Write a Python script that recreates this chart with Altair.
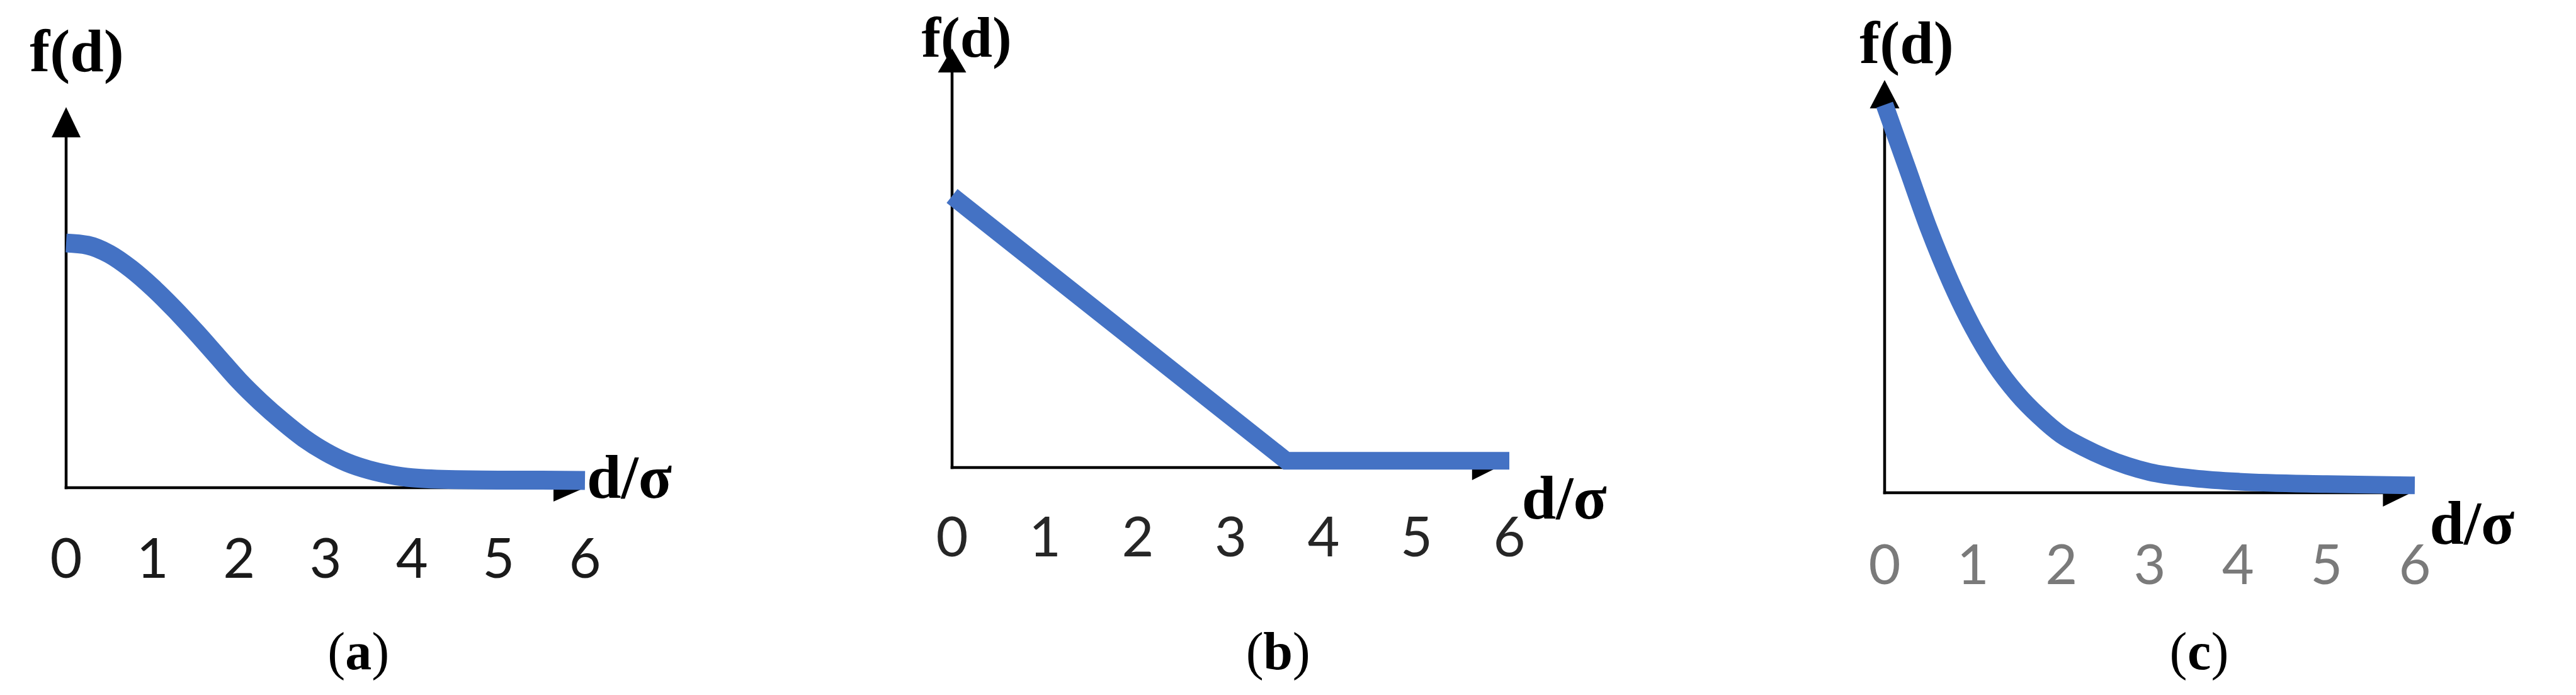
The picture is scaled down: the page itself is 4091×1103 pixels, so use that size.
import altair as alt
import pandas as pd

# ---------------- data ----------------
# (a) Gaussian-like kernel
a_x = [0, 0.25, 0.5, 0.75, 1, 1.25, 1.5, 1.75, 2, 2.25, 2.5, 2.75, 3, 3.25, 3.5, 3.75, 4, 4.5, 5, 5.5, 6]
a_f = [0.643, 0.637, 0.614, 0.575, 0.526, 0.47, 0.409, 0.345, 0.281, 0.225, 0.175, 0.13, 0.094,
       0.066, 0.047, 0.034, 0.026, 0.021, 0.02, 0.02, 0.019]
# (b) linear kernel
b_x = [0, 3.6, 6.0]
b_f = [0.648, 0.016, 0.016]
# (c) exponential-like kernel
c_x = [0, 0.25, 0.5, 0.75, 1, 1.25, 1.5, 1.75, 2, 2.25, 2.5, 2.75, 3, 3.5, 4, 5, 6]
c_f = [0.94, 0.79, 0.64, 0.51, 0.40, 0.31, 0.24, 0.185, 0.14, 0.11, 0.085, 0.065, 0.05, 0.035,
       0.027, 0.021, 0.018]

tick_values = [0, 1, 2, 3, 4, 5, 6]
tick_labels = ["0", "1", "2", "3", "4", "5", "6"]
captions = ["a", "b", "c"]
y_label = "f(d)"
x_label = "d/\u03c3"
axis_x_end = [6.0, 5.87, 5.96]
caption_x = [3.38, 3.51, 3.56]

# ---------------- styling / layout ----------------
BLUE = "#4472C4"
SERIF = "Liberation Serif"
SANS = "Lato"

panels = [
    dict(xs=a_x, fs=a_f, xr=[97, 921], yr=[766, 162], cap=captions[0], capx=caption_x[0],
         xend=axis_x_end[0], tick_color="#1a1a1a", tick_dy=143,
         yl_dx=17, yl_dy=-57, yl_fs=96, xl_dx=3, xl_dy=16, cap_dy=288, cap_half=21,
         up=(46, 48), right=(50, 22), lw=30, interp="monotone"),
    dict(xs=b_x, fs=b_f, xr=[1504, 2389], yr=[734, 69], cap=captions[1], capx=caption_x[1],
         xend=axis_x_end[1], tick_color="#262626", tick_dy=141,
         yl_dx=23, yl_dy=13, yl_fs=92, xl_dx=39, xl_dy=81, cap_dy=320, cap_half=23,
         up=(45, 38), right=(40, 20), lw=28, interp="linear"),
    dict(xs=c_x, fs=c_f, xr=[2985, 3827], yr=[774, 119], cap=captions[2], capx=caption_x[2],
         xend=axis_x_end[2], tick_color="#7a7a7a", tick_dy=145,
         yl_dx=35, yl_dy=-27, yl_fs=96, xl_dx=29, xl_dy=81, cap_dy=280, cap_half=19,
         up=(47, 45), right=(45, 22), lw=28, interp="monotone"),
]


def enc(xs, ys, xf="x:Q", yf="y:Q"):
    return dict(x=alt.X(xf, scale=xs, axis=None), y=alt.Y(yf, scale=ys, axis=None))


layers = []
for p in panels:
    xs = alt.Scale(domain=[0, 6], range=p["xr"], nice=False, zero=False)
    ys = alt.Scale(domain=[0, 1], range=p["yr"], nice=False, zero=False)

    # axes lines
    yaxis = alt.Chart(pd.DataFrame({"x": [0], "y": [0], "y2": [1]})).mark_rule(
        color="black", strokeWidth=4.5, strokeCap="square", y2Offset=20
    ).encode(**enc(xs, ys), y2="y2:Q")
    xaxis = alt.Chart(pd.DataFrame({"x": [0], "x2": [p["xend"]], "y": [0]})).mark_rule(
        color="black", strokeWidth=4.5, strokeCap="square", x2Offset=-20
    ).encode(**enc(xs, ys), x2="x2:Q")

    # arrowheads
    w, h = p["up"]
    up_path = f"M0,0L1,{h / (w / 2):.3f}L-1,{h / (w / 2):.3f}Z"
    up = alt.Chart(pd.DataFrame({"x": [0], "y": [1]})).mark_point(
        shape=up_path, size=w * w, filled=True, color="black", opacity=1, strokeWidth=0
    ).encode(**enc(xs, ys))
    L, hh = p["right"]
    r_path = f"M0,0L{-L / hh:.3f},-1L{-L / hh:.3f},1Z"
    right = alt.Chart(pd.DataFrame({"x": [p["xend"]], "y": [0]})).mark_point(
        shape=r_path, size=(2 * hh) ** 2, filled=True, color="black", opacity=1, strokeWidth=0
    ).encode(**enc(xs, ys))

    # curve
    curve = alt.Chart(pd.DataFrame({"x": p["xs"], "y": p["fs"]})).mark_line(
        color=BLUE, strokeWidth=p["lw"], interpolate=p["interp"], strokeCap="butt", strokeJoin="miter"
    ).encode(**enc(xs, ys))

    # tick labels
    ticks = alt.Chart(pd.DataFrame({"x": tick_values, "y": [0] * 7, "t": tick_labels})).mark_text(
        font=SANS, fontSize=88, color=p["tick_color"], align="center", baseline="alphabetic",
        dy=p["tick_dy"]
    ).encode(**enc(xs, ys), text="t:N")

    # axis titles
    ylab = alt.Chart(pd.DataFrame({"x": [0], "y": [1], "t": [y_label]})).mark_text(
        font=SERIF, fontSize=p["yl_fs"], fontWeight="bold", color="black", align="center",
        baseline="alphabetic", dx=p["yl_dx"], dy=p["yl_dy"]
    ).encode(**enc(xs, ys), text="t:N")
    xlab = alt.Chart(pd.DataFrame({"x": [p["xend"]], "y": [0], "t": [x_label]})).mark_text(
        font=SERIF, fontSize=98, fontWeight="bold", color="black", align="left",
        baseline="alphabetic", dx=p["xl_dx"], dy=p["xl_dy"]
    ).encode(**enc(xs, ys), text="t:N")

    # caption "(x)" : regular parens, bold letter
    cdf = pd.DataFrame({"x": [p["capx"]], "y": [0], "t": [p["cap"]]})
    cap_letter = alt.Chart(cdf).mark_text(
        font=SERIF, fontSize=84, fontWeight="bold", color="black", align="center",
        baseline="alphabetic", dy=p["cap_dy"]
    ).encode(**enc(xs, ys), text="t:N")
    lp = alt.Chart(cdf.assign(t="(")).mark_text(
        font=SERIF, fontSize=84, color="black", align="right",
        baseline="alphabetic", dy=p["cap_dy"], dx=-p["cap_half"]
    ).encode(**enc(xs, ys), text="t:N")
    rp = alt.Chart(cdf.assign(t=")")).mark_text(
        font=SERIF, fontSize=84, color="black", align="left",
        baseline="alphabetic", dy=p["cap_dy"], dx=p["cap_half"]
    ).encode(**enc(xs, ys), text="t:N")

    layers += [yaxis, xaxis, up, right, curve, ticks, ylab, xlab, cap_letter, lp, rp]

chart = alt.layer(*layers).resolve_scale(x="independent", y="independent").properties(
    width=4075, height=1087, autosize=alt.AutoSizeParams(type="none"), padding=0,
    background="white"
).configure_view(stroke=None)

chart.save("out.html", embed_options={"renderer": "svg", "actions": False})
